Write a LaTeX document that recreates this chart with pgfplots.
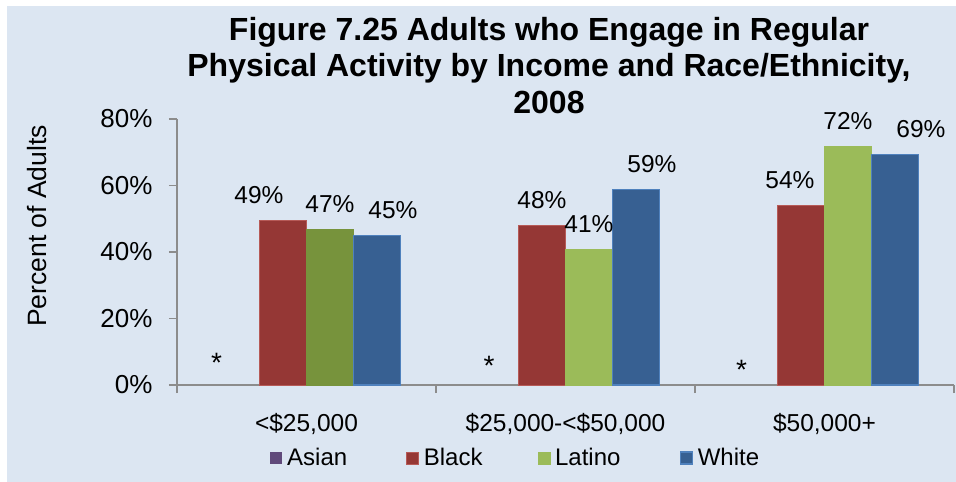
\documentclass[border=0pt]{standalone}
\usepackage{pgfplots}
\pgfplotsset{compat=1.18}
\usepackage{fontspec}
\setmainfont{Liberation Sans}
\definecolor{bgblue}{HTML}{DCE6F2}
\definecolor{axisgray}{HTML}{8C8C8C}
\definecolor{casian}{HTML}{604A7B}
\definecolor{cblack}{HTML}{953735}
\definecolor{cblackedge}{HTML}{B65A57}
\definecolor{clatino}{HTML}{9BBB59}
\definecolor{clatinodark}{HTML}{77933C}
\definecolor{cwhitebar}{HTML}{376092}
\definecolor{cwhiteedge}{HTML}{4F81BD}
\begin{document}
\begin{tikzpicture}
\fill[white] (-177pt,-97pt) rectangle (779pt,385pt);
\fill[bgblue] (-170pt,-97pt) rectangle (779pt,379pt);
\path[use as bounding box] (-177pt,-97pt) rectangle (779pt,385pt);
\node[anchor=north, align=center, inner sep=0pt, font=\fontsize{32}{36.5}\selectfont\bfseries]
  at (372pt,368pt) {Figure 7.25 Adults who Engage in Regular\\Physical Activity by Income and Race/Ethnicity,\\2008};
\begin{axis}[
  scale only axis, width=777pt, height=266pt,
  xmin=-0.5, xmax=2.5, ymin=0, ymax=80,
  ybar, bar width=47pt,
  axis lines*=left,
  axis line style={draw=axisgray, line width=1.2pt},
  tick style={draw=axisgray, line width=1.2pt},
  tick align=outside, tick pos=left,
  major tick length=8pt,
  ytick={0,20,40,60,80},
  yticklabels={0\%,20\%,40\%,60\%,80\%},
  yticklabel style={font=\fontsize{26}{30}\selectfont, xshift=-13pt},
  xtick={-0.5,0.5,1.5,2.5}, xticklabels={},
  extra x ticks={0,1,2},
  extra x tick labels={{<\$25,000},{\$25,000-<\$50,000},{\$50,000+}},
  extra x tick style={major tick length=0pt},
  xticklabel style={font=\fontsize{24.5}{29}\selectfont, yshift=-25pt},
  ylabel={Percent of Adults},
  ylabel style={at={(axis description cs:-0.18,0.598)}, anchor=center, font=\fontsize{26.5}{30}\selectfont},
  point meta=explicit symbolic,
  nodes near coords={\pgfplotspointmeta\%},
  visualization depends on={\thisrow{dx} \as \dx},
  nodes near coords style={anchor=base, yshift=17pt, xshift=\dx pt, font=\fontsize{24.5}{29}\selectfont, text=black},
  legend columns=4,
  legend style={at={(rel axis cs:0.1197,-0.274)}, anchor=west, draw=none, fill=none,
    font=\fontsize{24}{28}\selectfont, inner sep=0pt},
  legend image code/.code={\fill[#1] (0pt,-6pt) rectangle (12pt,6pt);},
  clip=false,
]
\addlegendimage{fill=casian, draw=none}
\addlegendentry{\hspace*{3pt}Asian\hspace*{57pt}}
\addplot[fill=cblack, draw=cblackedge, line width=0.6pt, bar shift=-23.5pt] table[x=x, y=y, meta=lab] {
x y lab dx
0 49.6 49 -24
1 47.9 48 0
2 54.0 54 -11
};
\addlegendentry{\hspace*{3pt}Black\hspace*{53pt}}
\addplot[fill=clatinodark, draw=clatinodark, line width=0.6pt, bar shift=23.5pt, forget plot] table[x=x, y=y, meta=lab] {
x y lab dx
0 46.9 47 0
};
\addplot[fill=clatino, draw=clatino, line width=0.6pt, bar shift=23.5pt] table[x=x, y=y, meta=lab] {
x y lab dx
1 40.9 41 0
2 71.7 72 0
};
\addlegendentry{\hspace*{3pt}Latino\hspace*{57pt}}
\addplot[fill=cwhitebar, draw=cwhiteedge, line width=1.3pt, bar shift=70.5pt] table[x=x, y=y, meta=lab] {
x y lab dx
0 44.9 45 16
1 58.9 59 16
2 69.4 69 26
};
\addlegendentry{\hspace*{3pt}White}
\node[anchor=base, font=\fontsize{28}{30}\selectfont] at (axis cs:-0.347,3.8) {*};
\node[anchor=base, font=\fontsize{28}{30}\selectfont] at (axis cs:0.705,2.9) {*};
\node[anchor=base, font=\fontsize{28}{30}\selectfont] at (axis cs:1.68,1.7) {*};
\end{axis}
\end{tikzpicture}
\end{document}
